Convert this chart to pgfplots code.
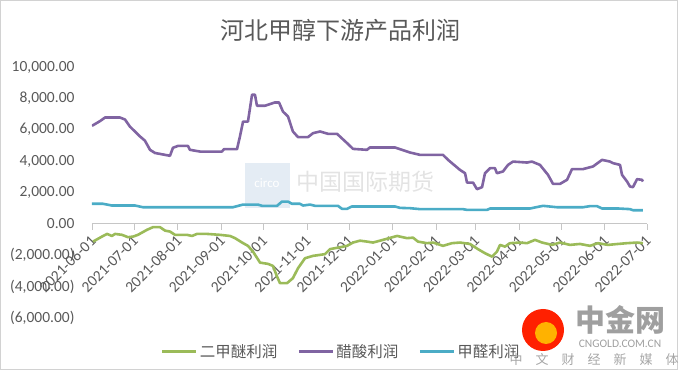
\documentclass[border=0pt]{standalone}
\usepackage{pgfplots}
\pgfplotsset{compat=1.18}
\usepackage{fontspec}
\setmainfont{Carlito}
\newfontfamily\cjk{Noto Sans CJK SC}
\definecolor{gcol}{HTML}{9BBB59}
\definecolor{pcol}{HTML}{8064A2}
\definecolor{tcol}{HTML}{4BACC6}
\definecolor{txt}{HTML}{595959}
\definecolor{wmbox}{HTML}{E4ECF4}
\begin{document}
\begin{tikzpicture}[x=1pt,y=1pt]
\path[use as bounding box] (0,0) rectangle (680,377);
\draw[gray!35] (0.5,8) rectangle (677,376.5);
% watermarks
\fill[wmbox] (245,169) rectangle (290,214);
\node[text=white,font=\fontsize{13}{13}\selectfont] at (267,194) {circo};
\node[text=gray!22,font=\cjk\fontsize{23}{23}\selectfont] at (365,195) {中国国际期货};
\begin{axis}[
  at={(92pt,59pt)}, anchor=south west,
  scale only axis, width=555pt, height=251pt,
  xmin=0, xmax=395, ymin=-6000, ymax=10000,
  enlargelimits=false,
  axis x line*=middle, axis y line*=left,
  hide obscured x ticks=false,
  scaled y ticks=false,
  y axis line style={draw=none},
  x axis line style={draw=gray!45, line width=0.8pt},
  xtick={0,30,61,92,122,153,183,214,245,273,304,334,365,395},
  xticklabels={2021-06-01,2021-07-01,2021-08-01,2021-09-01,2021-10-01,2021-11-01,2021-12-01,2022-01-01,2022-02-01,2022-03-01,2022-04-01,2022-05-01,2022-06-01,2022-07-01},
  xticklabel style={yshift=-8pt, xshift=2pt, rotate=45, anchor=east, font=\fontsize{15.5}{15.5}\selectfont, text=txt, inner sep=1pt},
  ytick={-6000,-4000,-2000,0,2000,4000,6000,8000,10000},
  yticklabels={{(6,000.00)},{(4,000.00)},{(2,000.00)},{0.00},{2,000.00},{4,000.00},{6,000.00},{8,000.00},{10,000.00}},
  yticklabel style={font=\fontsize{15.5}{15.5}\selectfont, text=txt, xshift=-8pt},
  ytick style={draw=none},
  xtick style={draw=gray!45, line width=0.8pt},
  tick align=outside, major tick length=6pt,
  legend columns=3,
  legend style={at={(0.449,-0.135)}, anchor=center, draw=none, fill=none,
    font=\cjk\fontsize{15.5}{15.5}\selectfont, text=txt,
    /tikz/every even column/.append style={column sep=18pt}},
  legend image code/.code={\draw[#1, line width=3pt] (0pt,0pt) -- (34pt,0pt);},
  every axis plot/.append style={line width=2.6pt, line join=round, no markers},
]
\addplot[gcol] coordinates {
(0.7,-1130)(7.1,-810)(10.7,-640)(14.2,-770)(16.4,-640)(21.4,-700)(25.6,-850)(29.2,-810)(32.7,-700)(39.1,-380)(43.4,-210)(48.4,-210)(52.0,-430)(55.5,-490)(59.1,-700)(67.6,-700)(71.2,-770)(74.7,-640)(81.8,-640)(91.1,-700)(98.2,-770)(101.8,-910)(106.8,-1190)(111.0,-1400)(114.6,-1770)(119.6,-2470)(125.3,-2550)(128.8,-2680)(131.7,-3360)(133.8,-3780)(138.8,-3780)(143.0,-3460)(146.6,-2830)(151.6,-2190)(157.3,-2040)(165.8,-1930)(169.4,-1610)(176.5,-1490)(181.5,-1400)(185.8,-1190)(190.7,-1070)(195.7,-1130)(200.0,-1190)(207.1,-1020)(217.1,-770)(224.2,-910)(228.5,-880)(232.0,-1130)(238.4,-1230)(242.7,-1190)(249.8,-1400)(256.2,-1230)(261.9,-1190)(269.0,-1280)(274.7,-1610)(279.7,-1870)(284.7,-2090)(288.2,-1770)(290.4,-1340)(293.9,-1450)(297.5,-1230)(304.6,-1190)(309.6,-1230)(315.3,-1020)(320.3,-1190)(327.4,-1340)(333.1,-1190)(340.2,-1340)(347.3,-1280)(354.4,-1400)(360.1,-1230)(367.2,-1340)(374.4,-1280)(380.8,-1230)(387.9,-1190)(392.1,-1230)
};
\addlegendentry{二甲醚利润}
\addplot[pcol] coordinates {
(0,6250)(5.7,6550)(9.3,6780)(19.9,6780)(23.5,6650)(27.0,6200)(34.2,5570)(37.7,5300)(41.3,4720)(44.8,4520)(55.5,4340)(57.6,4850)(61.2,4970)(68.3,4970)(69.7,4720)(76.9,4610)(92.5,4610)(93.9,4760)(103.2,4760)(105.3,5570)(107.5,6520)(111.0,6520)(113.9,8230)(116.0,8230)(117.4,7530)(123.1,7530)(130.2,7740)(133.1,7740)(135.9,7160)(139.5,6840)(143.0,5890)(146.6,5530)(153.7,5530)(157.3,5780)(162.3,5890)(168.0,5740)(174.4,5740)(181.5,5150)(185.8,4780)(195.7,4720)(197.8,4870)(215.6,4870)(219.2,4760)(226.3,4550)(233.4,4400)(249.8,4400)(253.4,4080)(261.9,3440)(265.5,3230)(266.9,2630)(271.2,2630)(274.0,2210)(277.6,2340)(279.7,3230)(283.3,3550)(286.8,3550)(288.2,3230)(292.5,3340)(296.1,3760)(299.6,3970)(309.6,3910)(313.1,3970)(318.8,3760)(324.5,3130)(328.1,2550)(333.1,2550)(338.1,2810)(341.6,3490)(349.4,3490)(356.6,3660)(363.0,4080)(368.7,3970)(370.8,3870)(375.8,3760)(377.2,3130)(380.8,2700)(382.9,2380)(385.0,2340)(387.9,2850)(391.4,2810)(392.1,2700)
};
\addlegendentry{醋酸利润}
\addplot[tcol] coordinates {
(0,1280)(7.8,1280)(14.2,1170)(30.6,1170)(36.3,1060)(100.3,1060)(107.5,1230)(118.1,1230)(121.0,1150)(131.7,1150)(135.2,1420)(139.5,1420)(142.3,1280)(148.0,1280)(150.2,1170)(155.2,1230)(158.7,1150)(175.1,1150)(177.9,960)(181.5,960)(185.0,1110)(215.6,1110)(219.2,1020)(226.3,1000)(233.4,940)(264.0,940)(266.9,890)(281.1,890)(283.3,980)(311.7,980)(321.0,1150)(331.0,1060)(349.4,1060)(354.4,1130)(359.4,1130)(363.0,980)(374.4,980)(382.9,940)(385.0,870)(392.1,870)
};
\addlegendentry{甲醛利润}
\end{axis}
\node[text=txt,font=\cjk\fontsize{24}{24}\selectfont] at (340,347) {河北甲醇下游产品利润};
% cngold watermark
\fill[red!75!orange] (543,47) circle (21);
\fill[orange!60!yellow] (546,44) circle (11);
\node[text=gray!75,font=\cjk\bfseries\fontsize{30}{30}\selectfont] at (620,57) {中金网};
\node[text=gray!75,font=\fontsize{11.5}{11.5}\selectfont] at (620,33) {CNGOLD.COM.CN};
\node[text=gray!70,font=\cjk\fontsize{13}{13}\selectfont] at (594,17) {中\quad 文\quad 财\quad 经\quad 新\quad 媒\quad 体};
\end{tikzpicture}
\end{document}
